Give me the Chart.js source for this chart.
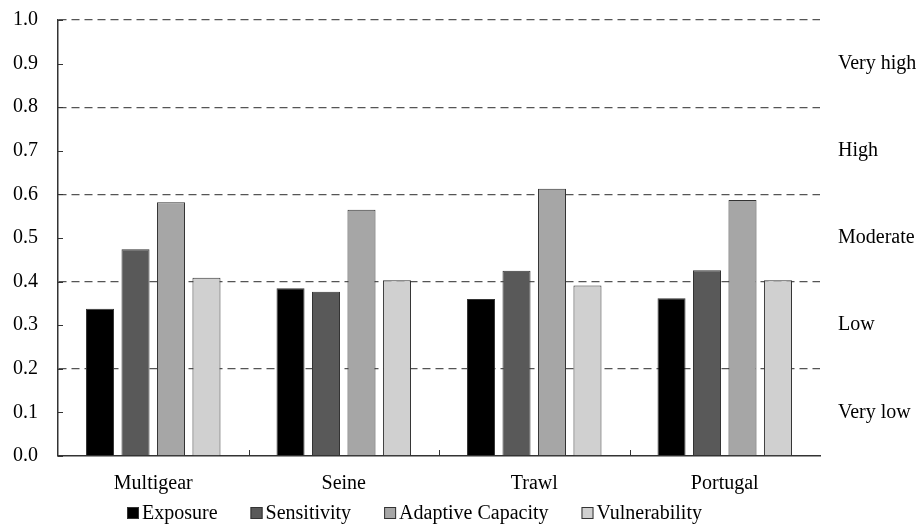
<!DOCTYPE html>
<html>
<head>
<meta charset="utf-8">
<script src="https://cdn.jsdelivr.net/npm/chart.js@4"></script>
<style>
  html, body { margin: 0; padding: 0; background: #fff; }
  #wrap { width: 916px; height: 526px; position: relative; }
</style>
</head>
<body>
<div id="wrap"><canvas id="chart"></canvas></div>
<script>
const categories = ["Multigear", "Seine", "Trawl", "Portugal"];
const seriesNames = ["Exposure", "Sensitivity", "Adaptive Capacity", "Vulnerability"];
const exposure = [0.338, 0.385, 0.360, 0.362];
const sensitivity = [0.474, 0.377, 0.425, 0.426];
const adaptiveCapacity = [0.582, 0.565, 0.613, 0.587];
const vulnerability = [0.409, 0.403, 0.391, 0.403];
const classLabels = { "0.1": "Very low", "0.3": "Low", "0.5": "Moderate", "0.7": "High", "0.9": "Very high" };

const fills = ["#000000", "#595959", "#a6a6a6", "#d0d0d0"];
const FONT = "'Liberation Serif', 'Times New Roman', serif";
const FONT_SIZE = 20;

// small tick marks drawn inward from the axes
const innerTicks = {
    id: "innerTicks",
    afterDraw(chart) {
        const ctx = chart.ctx;
        const y = chart.scales.y;
        const x = chart.scales.x;
        const area = chart.chartArea;
        ctx.save();
        ctx.strokeStyle = "#333";
        ctx.lineWidth = 1;
        for (let v = 0; v <= 10; v++) {
            const py = Math.round(y.getPixelForValue(v / 10)) + 0.5;
            ctx.beginPath();
            ctx.moveTo(area.left, py);
            ctx.lineTo(area.left + 5, py);
            ctx.stroke();
        }
        for (let i = 1; i < categories.length; i++) {
            const px = Math.round((x.getPixelForValue(i - 1) + x.getPixelForValue(i)) / 2) + 0.5;
            ctx.beginPath();
            ctx.moveTo(px, area.bottom);
            ctx.lineTo(px, area.bottom - 6);
            ctx.stroke();
        }
        ctx.restore();
    }
};

// legend row under the axis, with wider gaps than the built-in legend allows
const bottomLegend = {
    id: "bottomLegend",
    afterDraw(chart) {
        const ctx = chart.ctx;
        const cy = 513;
        let x = 127;
        ctx.save();
        ctx.font = FONT_SIZE + "px " + FONT;
        ctx.textBaseline = "middle";
        chart.data.datasets.forEach(ds => {
            ctx.fillStyle = ds.backgroundColor;
            ctx.fillRect(x, cy - 6, 12, 12);
            ctx.strokeStyle = "#333";
            ctx.lineWidth = 1;
            ctx.strokeRect(x + 0.5, cy - 5.5, 11, 11);
            ctx.fillStyle = "#000";
            ctx.fillText(ds.label, x + 15, cy + 1);
            x += 15 + ctx.measureText(ds.label).width + 33;
        });
        ctx.restore();
    }
};

const noPad = s => { s.paddingTop = 0; s.paddingBottom = 0; };

const chart = new Chart(document.getElementById("chart"), {
    type: "bar",
    data: {
        labels: categories,
        datasets: [exposure, sensitivity, adaptiveCapacity, vulnerability].map((d, i) => ({
            label: seriesNames[i],
            data: d,
            backgroundColor: fills[i],
            borderColor: "#333",
            borderWidth: 1,
            categoryPercentage: 0.745,
            barPercentage: 0.79
        }))
    },
    options: {
        responsive: true,
        maintainAspectRatio: false,
        animation: false,
        layout: { autoPadding: false, padding: { top: 20, left: 0, right: 0, bottom: 26 } },
        plugins: {
            tooltip: { enabled: false },
            legend: { display: false }
        },
        scales: {
            x: {
                grid: { display: false },
                border: { display: true, color: "#333", width: 1.5 },
                ticks: { font: { family: FONT, size: FONT_SIZE }, color: "#000", padding: 8 },
                afterFit: s => { s.height = 44; }
            },
            y: {
                min: 0,
                max: 1,
                ticks: {
                    stepSize: 0.1,
                    font: { family: FONT, size: FONT_SIZE },
                    color: "#000",
                    padding: 20,
                    callback: v => v.toFixed(1)
                },
                grid: {
                    drawTicks: false,
                    color: c => {
                        if (!c.tick) return "transparent";
                        const v = Math.round(c.tick.value * 10);
                        return (v > 0 && v % 2 === 0) ? "#555" : "transparent";
                    },
                    lineWidth: 1.3
                },
                border: { display: true, color: "#333", width: 1.5, dash: [8, 5] },
                afterFit: s => { s.width = 58; noPad(s); }
            },
            y2: {
                position: "right",
                min: 0,
                max: 1,
                ticks: {
                    stepSize: 0.1,
                    font: { family: FONT, size: FONT_SIZE },
                    color: "#000",
                    padding: 18,
                    autoSkip: false,
                    callback: v => classLabels[v.toFixed(1)] || ""
                },
                grid: { display: false, drawTicks: false },
                border: { display: false },
                afterFit: s => { s.width = 96; noPad(s); }
            }
        }
    },
    plugins: [innerTicks, bottomLegend]
});
</script>
</body>
</html>
